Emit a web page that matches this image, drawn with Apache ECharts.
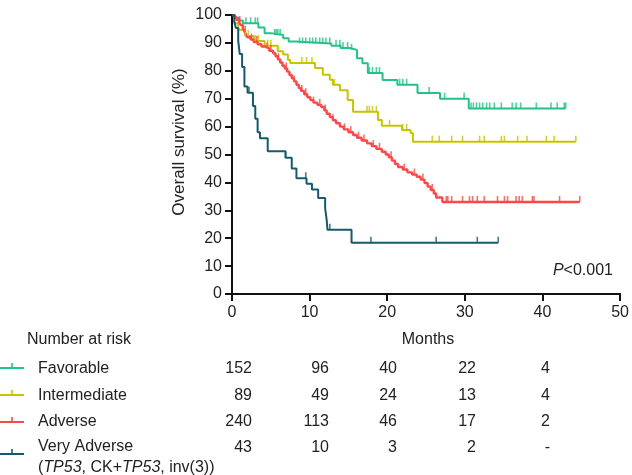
<!DOCTYPE html>
<html>
<head>
<meta charset="utf-8">
<script src="https://cdn.jsdelivr.net/npm/echarts@6/dist/echarts.min.js"></script>
<style>html,body{margin:0;padding:0;background:#fff}#c{width:632px;height:475px}</style>
</head>
<body>
<div id="c"></div>
<script>
// ---- Data (months, survival %) ----
var groupNames = ['Favorable', 'Intermediate', 'Adverse', 'Very Adverse'];
var xTicks = [0, 10, 20, 30, 40, 50];
var yTicks = [0, 10, 20, 30, 40, 50, 60, 70, 80, 90, 100];

var favorableSteps = [[0,100],[0.4,99],[0.9,98],[1.4,97],[3.4,95.5],[4.2,93.5],[5.0,92.8],[6.6,91.7],[7.3,90.5],[8.2,89.8],[12.8,89.0],[14.0,88.2],[15.2,87.5],[16.1,84.5],[16.8,82.7],[17.5,79.2],[19.4,76.7],[21.3,75],[23.9,72],[26.8,70],[30.5,66.5],[43.0,66.5]];
var favorableCensor = [1.8,2.4,3.0,3.3,5.5,5.7,5.9,6.2,8.7,9.1,9.5,10.0,10.4,10.8,11.3,11.7,12.1,12.6,13.4,13.9,14.3,14.9,15.4,17.7,18.1,18.6,19.0,21.6,22.0,22.5,25.4,27.4,29.9,30.8,31.1,31.5,31.9,32.3,32.8,33.2,33.8,34.7,36.1,36.6,37.2,39.2,41.1,41.9,42.8,43.0];

var intermediateSteps = [[0,100],[0.3,97],[0.8,94.7],[1.7,92.5],[2.8,90.7],[4.2,89],[5.9,87],[6.6,85.8],[7.2,84],[7.5,82.8],[10.7,81],[11.7,78.6],[12.6,76.8],[13.0,75],[13.9,73],[14.9,69.5],[15.6,65.3],[18.8,62.4],[19.3,60.3],[21.9,58.8],[23.0,57.7],[23.3,54.6],[44.3,54.6]];
var intermediateCensor = [1.7,2.1,3.0,3.4,4.6,5.0,9.0,9.6,10.3,13.2,17.4,17.7,18.1,18.6,20.3,22.0,22.5,25.8,26.7,28.3,29.7,31.9,32.5,34.7,35.1,36.8,38.0,40.5,41.5,44.3];

var adverseSteps = [[0,100],[0.3,99.2],[0.6,98.3],[0.9,97.5],[1.1,96.4],[1.4,95.2],[1.6,94],[1.8,93],[2.0,92],[2.4,91.2],[2.8,90.3],[3.3,89.5],[3.8,88.7],[4.3,88],[4.8,87.2],[5.3,86.3],[5.6,85.2],[5.9,84.1],[6.2,83],[6.5,81.8],[6.8,80.8],[7.1,79.7],[7.4,78.5],[7.7,77.3],[8.0,76.2],[8.3,75],[8.6,73.8],[8.9,72.8],[9.3,71.6],[9.7,70.5],[10.1,69.5],[10.5,68.6],[11.0,67.8],[11.5,67],[11.9,65.8],[12.2,64.6],[12.6,63.4],[13.0,62.3],[13.4,61.2],[13.9,60],[14.4,59],[15.0,58],[15.6,57],[16.1,56],[16.7,55],[17.4,54],[18.0,53],[18.6,52],[19.3,51],[19.8,50],[20.2,49],[20.6,47.8],[21.0,46.6],[21.4,45.5],[22.0,44.6],[22.6,43.6],[23.2,42.8],[23.8,42],[24.3,41],[24.8,39.8],[25.2,38.5],[25.6,37.3],[26.0,36],[26.3,34.6],[27.1,33],[44.8,33]];
var adverseCensor = [1.0,1.7,2.5,3.2,4.5,5.0,6.0,7.0,8.0,9.0,9.5,10.5,11.3,12.0,13.0,14.5,15.3,16.3,17.0,18.2,19.0,20.5,22.2,23.5,24.6,25.8,27.6,27.8,28.3,29.7,30.6,31.0,31.6,32.5,34.2,35.1,35.5,36.6,37.0,37.4,38.7,38.9,42.2,44.8];

var veryAdverseSteps = [[0,100],[0.3,97.7],[0.5,95.3],[0.8,90.7],[1.0,86],[1.3,81.4],[1.6,74.4],[2.0,72.1],[2.7,67.4],[3.0,62.8],[3.3,58],[3.6,55.8],[4.6,51.2],[6.9,48.8],[7.7,45],[8.3,41.5],[9.6,39.5],[10.3,37.5],[11.1,34.4],[12.0,30.8],[12.2,26.5],[12.3,23],[15.4,18.4],[34.3,18.4]];
var veryAdverseCensor = [2.2,6.9,9.5,12.6,17.9,26.3,31.6,34.3];

var riskTimes = [0, 10, 20, 30, 40];
var riskFavorable = ['152','96','40','22','4'];
var riskIntermediate = ['89','49','24','13','4'];
var riskAdverse = ['240','113','46','17','2'];
var riskVeryAdverse = ['43','10','3','2','-'];

// ---- Build ----
var colors = ['#22c386', '#c6c400', '#fb4848', '#175a6d'];
var lineWidths = [2, 2, 2.4, 2];
var stepsAll = [favorableSteps, intermediateSteps, adverseSteps, veryAdverseSteps];
var censorAll = [favorableCensor, intermediateCensor, adverseCensor, veryAdverseCensor];
var riskAll = [riskFavorable, riskIntermediate, riskAdverse, riskVeryAdverse];

function survAt(steps, t) {
  var s = steps[0][1];
  for (var i = 0; i < steps.length; i++) { if (steps[i][0] <= t + 1e-9) s = steps[i][1]; }
  return s;
}

var FONT = 'Liberation Sans, Arial, sans-serif';
var FS = 16;
var series = [];
stepsAll.forEach(function (st, i) {
  series.push({
    type: 'line', step: 'end', data: st, symbol: 'none', z: 3,
    lineStyle: { color: colors[i], width: lineWidths[i] }, animation: false
  });
  series.push({
    type: 'scatter', z: 4, animation: false,
    data: censorAll[i].map(function (t) { return [t, survAt(st, t)]; }),
    symbol: 'rect', symbolSize: [1.6, 6], symbolOffset: [0, -3],
    itemStyle: { color: colors[i] }
  });
});

var chart = echarts.init(document.getElementById('c'), null, { renderer: 'canvas' });
var axisCommon = {
  axisLine: { show: true, lineStyle: { color: '#111', width: 2 } },
  axisTick: { show: true, inside: false, length: 7, lineStyle: { color: '#111', width: 2 } },
  splitLine: { show: false }
};
var option = {
  backgroundColor: '#fff',
  animation: false,
  grid: { left: 232, right: 11, top: 15, bottom: 181, containLabel: false },
  xAxis: Object.assign({
    type: 'value', min: xTicks[0], max: xTicks[xTicks.length - 1], interval: 10,
    axisLabel: { color: '#222', fontSize: FS, fontFamily: FONT, margin: 11 }
  }, axisCommon),
  yAxis: Object.assign({
    type: 'value', min: yTicks[0], max: yTicks[yTicks.length - 1], interval: 10,
    axisLabel: { color: '#222', fontSize: FS, fontFamily: FONT, margin: 10 }
  }, axisCommon),
  series: series,
  graphic: []
};

var g = option.graphic;
var txt = function (x, y, text, align) {
  g.push({ type: 'text', x: x, y: y, style: { text: text, fill: '#222', font: FS + 'px ' + FONT, textAlign: align || 'left', textVerticalAlign: 'middle' } });
};
// Y axis title
g.push({ type: 'text', x: 179, y: 142, rotation: Math.PI / 2,
  style: { text: 'Overall survival (%)', fill: '#222', font: '17px ' + FONT, textAlign: 'center', textVerticalAlign: 'middle' } });
// P value
g.push({ type: 'text', x: 613, y: 271, style: { text: '{i|P}<0.001', textAlign: 'right', textVerticalAlign: 'middle', fill: '#222', font: FS + 'px ' + FONT,
  rich: { i: { fontStyle: 'italic', fontSize: FS, fontFamily: FONT, fill: '#222' } } } });
txt(27, 340, 'Number at risk', 'left');
txt(428, 340, 'Months', 'center');
var rowY = [369, 396, 422, 448];
var labelY = [369, 396, 422, 447];
var iconY = [368, 395, 422, 454];
var colRight = [252, 329, 397, 476, 550];
groupNames.forEach(function (nm, i) {
  txt(38, labelY[i], nm, 'left');
  g.push({ type: 'line', shape: { x1: 0, y1: iconY[i], x2: 24, y2: iconY[i] }, style: { stroke: colors[i], lineWidth: 2 } });
  g.push({ type: 'line', shape: { x1: 12, y1: iconY[i], x2: 12, y2: iconY[i] - 5 }, style: { stroke: colors[i], lineWidth: 1.6 } });
  riskAll[i].forEach(function (v, j) { txt(colRight[j], rowY[i], v, 'right'); });
});
g.push({ type: 'text', x: 38, y: 468, style: { text: '({i|TP53}, CK+{i|TP53}, inv(3))', textVerticalAlign: 'middle', fill: '#222', font: FS + 'px ' + FONT,
  rich: { i: { fontStyle: 'italic', fontSize: FS, fontFamily: FONT, fill: '#222' } } } });

chart.setOption(option);
</script>
</body>
</html>
